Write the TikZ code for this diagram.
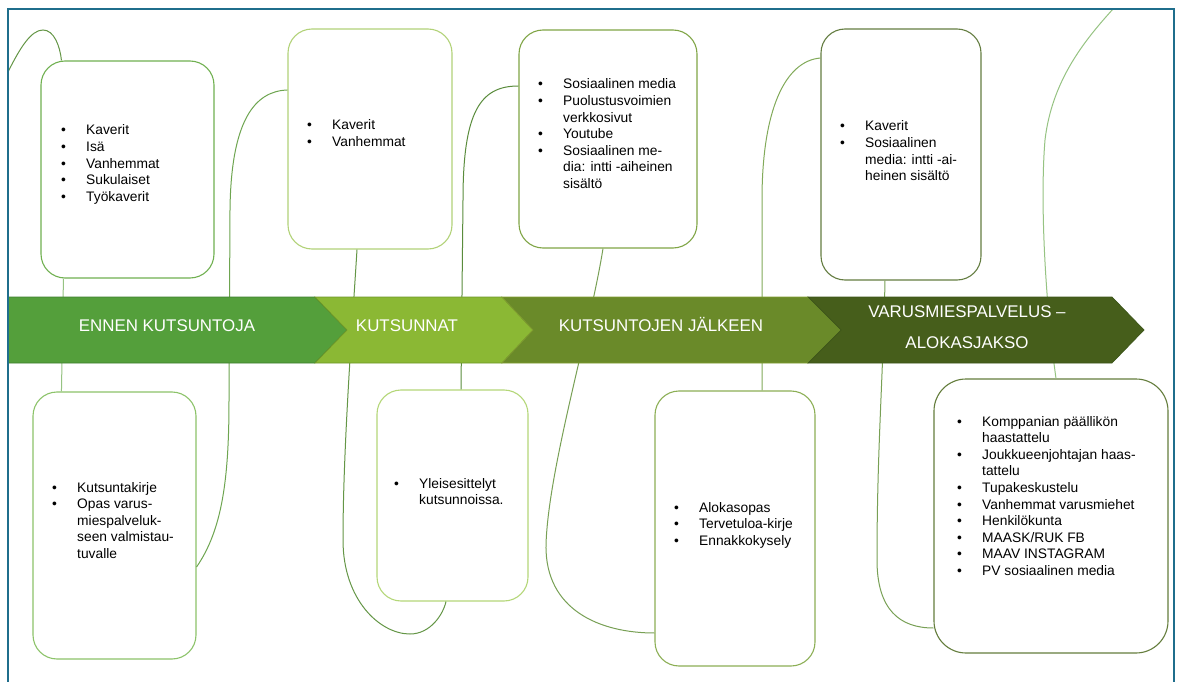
\documentclass[tikz,border=0pt]{standalone}
\usepackage{fontspec}
\setmainfont{Liberation Sans}
\usetikzlibrary{arrows,positioning}

\definecolor{frameblue}{RGB}{31,110,140}
\definecolor{segA}{RGB}{84,159,59}
\definecolor{segAline}{RGB}{62,126,46}
\definecolor{segB}{RGB}{139,184,52}
\definecolor{segBline}{RGB}{110,150,40}
\definecolor{segC}{RGB}{106,138,41}
\definecolor{segCline}{RGB}{128,155,48}
\definecolor{segD}{RGB}{70,94,27}
\definecolor{segDline}{RGB}{60,85,25}
\definecolor{boxA}{RGB}{112,176,80}
\definecolor{boxB}{RGB}{178,210,120}
\definecolor{boxC}{RGB}{128,165,70}
\definecolor{boxD}{RGB}{100,125,65}
\definecolor{boxE}{RGB}{140,195,105}
\definecolor{boxF}{RGB}{180,215,120}
\definecolor{boxG}{RGB}{140,175,85}
\definecolor{boxH}{RGB}{100,125,60}
\definecolor{linkA}{RGB}{100,150,70}
\definecolor{linkB}{RGB}{150,195,130}
\definecolor{linkC}{RGB}{110,165,80}
\definecolor{linkD}{RGB}{90,140,60}
\definecolor{linkE}{RGB}{120,160,85}
\definecolor{linkF}{RGB}{130,170,90}

\begin{document}
\begin{tikzpicture}[x=1pt,y=-1pt,
	box/.style={draw, fill=white, rounded corners=24pt, line width=1.1pt, inner sep=0pt},
	link/.style={line width=1pt},
	seg/.style={line width=0.7pt},
	lst/.style={anchor=base west, inner sep=0pt, font=\fontsize{13.8}{16.6}\selectfont},
	phase/.style={text=white, inner sep=0pt, align=center, font=\fontsize{16.9}{31}\selectfont}]

	\fill [white] (0,0) rectangle (1179,682);
	\useasboundingbox (0,0) rectangle (1179,682);

	\node [box, draw=boxA, minimum width=173pt, minimum height=217pt] (box1) at (127.5,169.5) {};
	\node [box, draw=boxB, minimum width=164pt, minimum height=220pt] (box2) at (370,139) {};
	\node [box, draw=boxC, minimum width=178pt, minimum height=218pt] (box3) at (608,139) {};
	\node [box, draw=boxD, minimum width=160pt, minimum height=251pt] (box4) at (901,154.5) {};
	\node [box, draw=boxE, minimum width=163pt, minimum height=267pt] (box5) at (114.5,525.5) {};
	\node [box, draw=boxF, minimum width=151pt, minimum height=211pt] (box6) at (452.5,495.5) {};
	\node [box, draw=boxG, minimum width=160pt, minimum height=275pt] (box7) at (735,528.5) {};
	\node [box, draw=boxH, rounded corners=32pt, minimum width=234pt, minimum height=274pt] (box8) at (1051,516) {};

	\coordinate (entry) at (8,72);
	\coordinate (exit) at (1113,9);

	\draw [link, linkA] (entry) .. controls (20,48) and (31,30) .. (43,30)
		.. controls (54,30) and (60,46) .. ([xshift=21pt]box1.north west);
	\draw [link, linkB] ([xshift=23pt]box1.south west) to ([xshift=29pt]box5.north west);
	\draw [link, linkC] ([yshift=-41.5pt]box5.east) .. controls (222,530) and (229,480) .. (229,400)
		-- (230,210) .. controls (231,120) and (255,91) .. ([yshift=49pt]box2.west);
	\draw [link, linkA] ([xshift=-13pt]box2.south) .. controls (352,330) and (343,450) .. (343,540)
		.. controls (343,600) and (380,634) .. (410,634) .. controls (430,634) and (443,615) .. ([xshift=-6.5pt]box6.south);
	\draw [link, linkD] ([xshift=8.5pt]box6.north) -- (463,200)
		.. controls (463,112) and (480,86) .. ([yshift=53pt]box3.west);
	\draw [link, linkE] ([xshift=-5pt]box3.south) .. controls (590,330) and (548,470) .. (546,545)
		.. controls (545,610) and (600,633) .. ([yshift=-104.5pt]box7.west);
	\draw [link, linkF] ([xshift=27pt]box7.north) -- (762,200)
		.. controls (762,110) and (785,61) .. ([yshift=96.5pt]box4.west);
	\draw [link, linkE] ([xshift=-16pt]box4.south) .. controls (883,380) and (877,450) .. (877,560)
		.. controls (877,610) and (900,628) .. ([yshift=-112pt]box8.west);
	\draw [link, linkB] ([xshift=5pt]box8.north) .. controls (1045,300) and (1040,200) .. (1045,140)
		.. controls (1052,80) and (1085,40) .. (exit);

	\draw [seg, fill=segA, draw=segAline] (8,297) -- (315,297) -- (347,330) -- (315,363) -- (8,363) -- cycle;
	\draw [seg, fill=segB, draw=segBline] (315,297) -- (502,297) -- (533,330) -- (502,363) -- (315,363) -- (347,330) -- cycle;
	\draw [seg, fill=segC, draw=segCline] (502,297) -- (808,297) -- (841,330) -- (808,363) -- (502,363) -- (533,330) -- cycle;
	\draw [seg, fill=segD, draw=segDline] (808,297) -- (1112,297) -- (1144,330) -- (1112,363) -- (808,363) -- (841,330) -- cycle;

	\node [phase, anchor=base] (phase1) at (167,331) {ENNEN KUTSUNTOJA};
	\node [phase, anchor=base] (phase2) at (407,331) {KUTSUNNAT};
	\node [phase, anchor=base] (phase3) at (661,331) {KUTSUNTOJEN JÄLKEEN};
	\node [phase] (phase4) at (967,327.5) {VARUSMIESPALVELUS –\\ALOKASJAKSO};

	\node [lst] (list1) at (61,135) {\begin{tabular}[t]{@{}p{25pt}@{}l@{}}
		\textbullet & Kaverit\\
		\textbullet & Isä\\
		\textbullet & Vanhemmat\\
		\textbullet & Sukulaiset\\
		\textbullet & Työkaverit
	\end{tabular}};
	\node [lst] (list2) at (307,130) {\begin{tabular}[t]{@{}p{25pt}@{}l@{}}
		\textbullet & Kaverit\\
		\textbullet & Vanhemmat
	\end{tabular}};
	\node [lst] (list3) at (538,89) {\begin{tabular}[t]{@{}p{25pt}@{}l@{}}
		\textbullet & Sosiaalinen media\\
		\textbullet & Puolustusvoimien\\
		 & verkkosivut\\
		\textbullet & Youtube\\
		\textbullet & Sosiaalinen me-\\
		 & dia: intti -aiheinen\\
		 & sisältö
	\end{tabular}};
	\node [lst] (list4) at (840,131) {\begin{tabular}[t]{@{}p{25pt}@{}l@{}}
		\textbullet & Kaverit\\
		\textbullet & Sosiaalinen\\
		 & media: intti -ai-\\
		 & heinen sisältö
	\end{tabular}};
	\node [lst] (list5) at (52,492) {\begin{tabular}[t]{@{}p{25pt}@{}l@{}}
		\textbullet & Kutsuntakirje\\
		\textbullet & Opas varus-\\
		 & miespalveluk-\\
		 & seen valmistau-\\
		 & tuvalle
	\end{tabular}};
	\node [lst] (list6) at (394,488) {\begin{tabular}[t]{@{}p{25pt}@{}l@{}}
		\textbullet & Yleisesittelyt\\
		 & kutsunnoissa.
	\end{tabular}};
	\node [lst] (list7) at (674,512) {\begin{tabular}[t]{@{}p{25pt}@{}l@{}}
		\textbullet & Alokasopas\\
		\textbullet & Tervetuloa-kirje\\
		\textbullet & Ennakkokysely
	\end{tabular}};
	\node [lst] (list8) at (957,426) {\begin{tabular}[t]{@{}p{25pt}@{}l@{}}
		\textbullet & Komppanian päällikön\\
		 & haastattelu\\
		\textbullet & Joukkueenjohtajan haas-\\
		 & tattelu\\
		\textbullet & Tupakeskustelu\\
		\textbullet & Vanhemmat varusmiehet\\
		\textbullet & Henkilökunta\\
		\textbullet & MAASK/RUK FB\\
		\textbullet & MAAV INSTAGRAM\\
		\textbullet & PV sosiaalinen media
	\end{tabular}};

	\draw [frameblue, line width=2pt] (8,682) -- (8,9) -- (1174,9) -- (1174,682);
\end{tikzpicture}
\end{document}
